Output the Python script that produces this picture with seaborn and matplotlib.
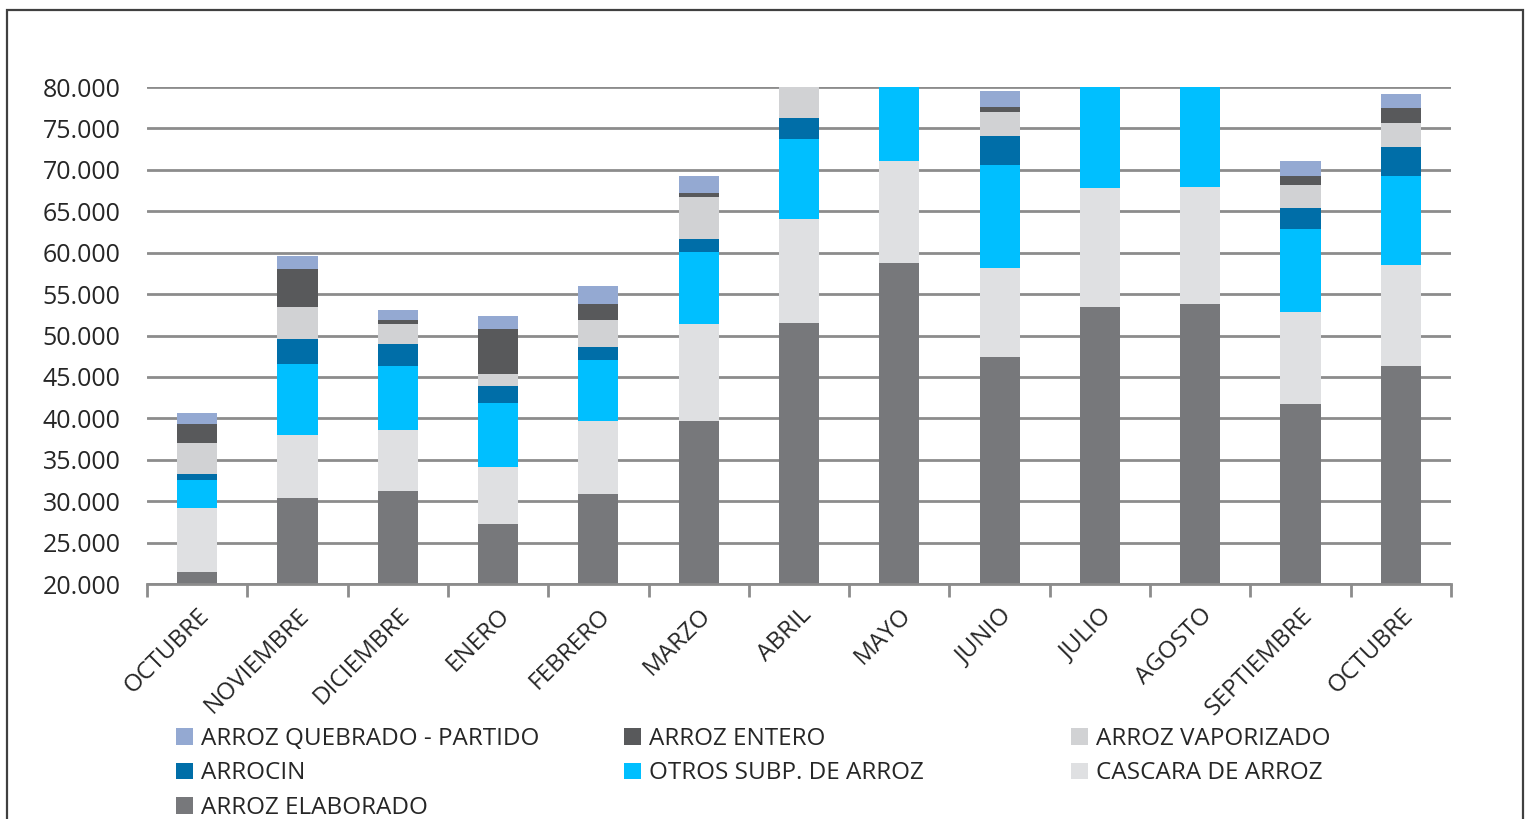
import matplotlib
matplotlib.use("Agg")
import matplotlib.pyplot as plt
import matplotlib.ticker as mticker
from matplotlib.patches import Rectangle, Patch
import seaborn as sns
import pandas as pd
import numpy as np

months = ["OCTUBRE", "NOVIEMBRE", "DICIEMBRE", "ENERO", "FEBRERO", "MARZO", "ABRIL",
          "MAYO", "JUNIO", "JULIO", "AGOSTO", "SEPTIEMBRE", "OCTUBRE"]

# series, bottom to top of each stack
arroz_elaborado = [21450, 30420, 31220, 27280, 30830, 39710, 51470, 58710, 47430, 53430, 53830, 41730, 46310]
cascara_arroz   = [7760, 7600, 7330, 6880, 8880, 11640, 12630, 12310, 10740, 14360, 14090, 11070, 12190]
otros_subp      = [3380, 8530, 7800, 7720, 7330, 8690, 9620, 12000, 12430, 14000, 14500, 10050, 10710]
arrocin         = [720, 3020, 2580, 2050, 1570, 1610, 2530, 2500, 3460, 2500, 2500, 2530, 3570]
arroz_vaporizado= [3670, 3860, 2450, 1380, 3300, 5030, 5000, 3500, 2930, 3500, 3500, 2740, 2900]
arroz_entero    = [2360, 4590, 450, 5500, 1930, 560, 800, 700, 570, 700, 700, 1120, 1770]
arroz_quebrado  = [1330, 1600, 1240, 1500, 2170, 2020, 2000, 1800, 1930, 1800, 1800, 1810, 1650]

series_names = ["ARROZ ELABORADO", "CASCARA DE ARROZ", "OTROS SUBP. DE ARROZ", "ARROCIN",
                "ARROZ VAPORIZADO", "ARROZ ENTERO", "ARROZ QUEBRADO - PARTIDO"]
series_vals = [arroz_elaborado, cascara_arroz, otros_subp, arrocin,
               arroz_vaporizado, arroz_entero, arroz_quebrado]
colors = {
    "ARROZ ELABORADO": "#77787b",
    "CASCARA DE ARROZ": "#dfe0e2",
    "OTROS SUBP. DE ARROZ": "#00bfff",
    "ARROCIN": "#006ea8",
    "ARROZ VAPORIZADO": "#d1d2d4",
    "ARROZ ENTERO": "#58595b",
    "ARROZ QUEBRADO - PARTIDO": "#94a9d2",
}

sns.set_theme(style="white")
plt.rcParams["font.family"] = ["Open Sans", "DejaVu Sans"]
FS = 17.5

fig = plt.figure(figsize=(15.33, 8.19), dpi=100)
ax = fig.add_axes([147/1533, 1-584/819, (1451-147)/1533, (584-87)/819])

pos = list(range(len(months)))
cum = np.cumsum(np.array(series_vals), axis=0)
# draw from top cumulative down so lower segments overlay
for i in range(len(series_names)-1, -1, -1):
    df = pd.DataFrame({"pos": pos, "val": cum[i]})
    sns.barplot(data=df, x="pos", y="val", color=colors[series_names[i]],
                width=0.4, errorbar=None, saturation=1, ax=ax, zorder=3,
                linewidth=0)

ax.set_ylim(20000, 80000)
ax.set_xlim(-0.5, len(months)-0.5)
ax.yaxis.set_major_locator(mticker.MultipleLocator(5000))
ax.yaxis.set_major_formatter(mticker.FuncFormatter(lambda v, p: f"{int(v):,}".replace(",", ".")))
ax.grid(axis="y", color="#8c8c8c", lw=2, zorder=0)
ax.set_axisbelow(True)
for s in ["top", "right", "left"]:
    ax.spines[s].set_visible(False)
ax.spines["bottom"].set_color("#8c8c8c")
ax.spines["bottom"].set_linewidth(2)
ax.spines["bottom"].set_zorder(4)

ax.set_xlabel("")
ax.set_ylabel("")
ax.set_xticks(pos)
ax.set_xticklabels(months, rotation=45, ha="right", va="top", rotation_mode="anchor", fontsize=FS)
ax.tick_params(axis="x", which="major", length=0, pad=14)
ax.set_xticks(np.arange(-0.5, len(months), 1), minor=True)
ax.tick_params(axis="x", which="minor", length=9, width=2, color="#8c8c8c", direction="out", bottom=True)
ax.tick_params(axis="y", length=0, pad=19, labelsize=18)

# legend columns
cols = [
    (176, ["ARROZ QUEBRADO - PARTIDO", "ARROCIN", "ARROZ ELABORADO"]),
    (624, ["ARROZ ENTERO", "OTROS SUBP. DE ARROZ"]),
    (1071, ["ARROZ VAPORIZADO", "CASCARA DE ARROZ"]),
]
for x0, names in cols:
    handles = [Patch(facecolor=colors[n], edgecolor="none") for n in names]
    fig.legend(handles, names, loc="upper left", bbox_to_anchor=(x0/1533, 1-727/819),
               frameon=False, fontsize=FS, handlelength=0.68, handleheight=0.68,
               handletextpad=0.35, labelspacing=0.43, borderpad=0, borderaxespad=0)

fig.add_artist(Rectangle((7/1533, -0.05), (1523-7)/1533, 1.05-10/819, transform=fig.transFigure,
                         fill=False, edgecolor="#404040", lw=1.6))

fig.savefig("out.png", dpi=100)
